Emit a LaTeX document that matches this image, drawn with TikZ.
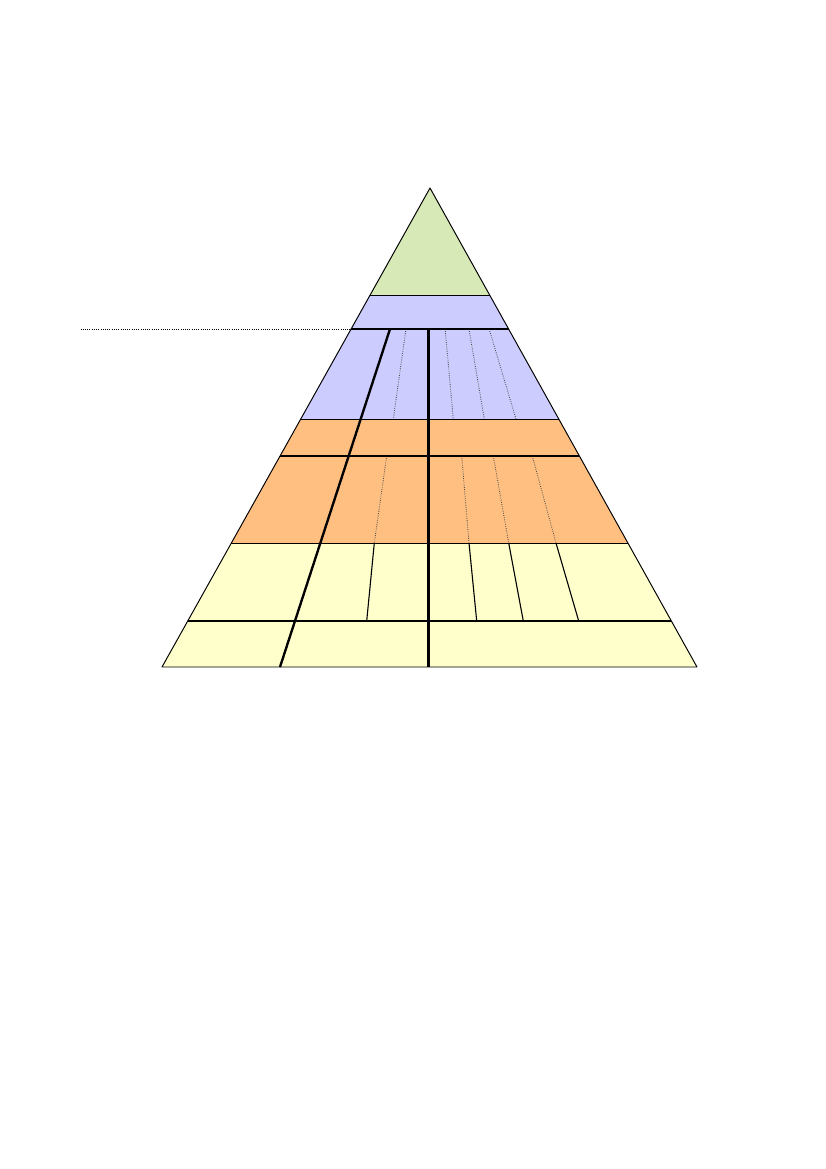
\documentclass[tikz,border=0pt]{standalone}
\usetikzlibrary{calc}
\definecolor{pgreen}{HTML}{D7E9B6}
\definecolor{pblue}{HTML}{CCCCFF}
\definecolor{porange}{HTML}{FFBF80}
\definecolor{pyellow}{HTML}{FFFFCC}
\tikzset{
  thinline/.style={line width=0.7pt, black, line join=round},
  thickline/.style={line width=1.7pt, black},
  midline/.style={line width=0.8pt, black},
  dotline/.style={line width=0.6pt, densely dotted, black!70},
}
\begin{document}
\begin{tikzpicture}[x=0.72pt,y=-0.72pt]
\useasboundingbox (0,0) rectangle (826,1169);
% corner coordinates
\coordinate (apex) at (430,188);
\coordinate (L1) at (370.1,295); \coordinate (R1) at (489.6,295);
\coordinate (L2) at (351.1,329); \coordinate (R2) at (508.6,329);
\coordinate (L3) at (300.7,419); \coordinate (R3) at (558.8,419);
\coordinate (L4) at (280.0,456); \coordinate (R4) at (579.4,456);
\coordinate (L5) at (231.4,543); \coordinate (R5) at (627.9,543);
\coordinate (L6) at (187.7,621); \coordinate (R6) at (671.4,621);
\coordinate (L7) at (162,667);   \coordinate (R7) at (697,667);
% bands
\fill[pgreen]  (apex) -- (R1) -- (L1) -- cycle;
\fill[pblue]   (L1) -- (R1) -- (R3) -- (L3) -- cycle;
\fill[porange] (L3) -- (R3) -- (R5) -- (L5) -- cycle;
\fill[pyellow] (L5) -- (R5) -- (R7) -- (L7) -- cycle;
% thin band boundaries
\draw[thinline] (L1) -- (R1);
\draw[thinline] (L3) -- (R3);
\draw[thinline] (L5) -- (R5);
% dotted lines in blue band
\draw[dotline] (405.7,331) -- (393.3,419);
\draw[dotline] (445.3,331) -- (453.3,419);
\draw[dotline] (469.3,331) -- (484.3,419);
\draw[dotline] (489.7,331) -- (516,419);
% dotted lines in orange band
\draw[dotline] (386.7,456) -- (374.3,543);
\draw[dotline] (461.7,456) -- (469,543);
\draw[dotline] (493.3,456) -- (508.7,543);
\draw[dotline] (532.3,456) -- (556,543);
% solid thin lines in yellow band
\draw[midline] (374.3,543) -- (366.7,621);
\draw[midline] (469,543) -- (476.7,621);
\draw[midline] (508.7,543) -- (523.3,621);
\draw[midline] (556,543) -- (578.7,621);
% thick horizontal lines
\draw[thickline] (L2) -- (R2);
\draw[thickline] (L4) -- (R4);
\draw[thickline] (L6) -- (R6);
% thick vertical and slanted lines
\coordinate (vt) at (428.5,329); \coordinate (vb) at (428.5,667);
\coordinate (st) at (390,329);   \coordinate (sb) at (280,667);
\draw[thickline] (vt) -- (vb);
\draw[thickline] (st) -- (sb);
% outline
\draw[thinline] (apex) -- (R7) -- (L7) -- cycle;
% dotted leader
\coordinate (lead) at (80.5,329);
\draw[line width=0.6pt, densely dotted] (lead) -- (L2);
\end{tikzpicture}
\end{document}
